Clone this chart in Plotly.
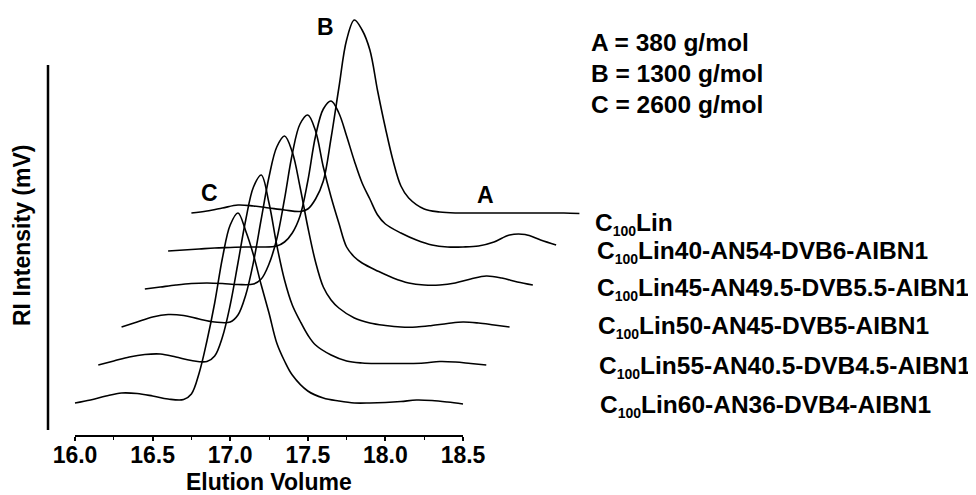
import plotly.graph_objects as go

# ---------------- data ----------------
elution = [16.00, 16.10, 16.20, 16.30, 16.40, 16.50, 16.60, 16.70, 16.75, 16.80,
           16.85, 16.90, 16.95, 17.00, 17.05, 17.10, 17.15, 17.20, 17.25, 17.30,
           17.35, 17.40, 17.50, 17.60, 17.70, 17.80, 17.90, 18.00, 18.10, 18.20,
           18.30, 18.40, 18.50]

lin60 = [0, 3, 7, 10, 9.5, 7, 4, 3.5, 9, 30, 62, 100, 145, 178, 190, 172, 148, 118, 90, 60,
         42, 28, 12, 5, 2, 0, 0, 0.5, 1.5, 3, 2.5, 1, -1]
lin55 = [0, 4, 8, 10.5, 11, 8, 4.5, 3.5, 9, 28, 60, 102, 145, 178, 190, 162, 120, 85, 60, 44,
         30, 20, 10, 4, 2, 1.5, 1.5, 1.5, 2, 3.5, 3, 1.5, 0]
lin50 = [0, 5, 10, 12.5, 11.5, 8, 5, 5, 12, 32, 65, 108, 150, 180, 191, 175, 140, 100, 65, 40,
         27, 19, 9, 4, 1.5, 0, 0, 1.5, 3.5, 5, 4, 2, 0]
lin45 = [0, 2, 4, 5.5, 6, 5.5, 4.5, 5, 10, 25, 50, 90, 135, 165, 174, 158, 122, 92, 66, 42,
         32, 26, 18, 11, 6, 4, 4, 6, 10, 13, 11, 7, 4]
lin40 = [0, 1, 2, 3, 3.5, 4, 4, 5, 9, 18, 35, 70, 115, 142, 150, 138, 115, 90, 68, 52,
         36, 27, 18, 11, 6, 4, 4, 5, 9, 16, 16.5, 11, 6]
lin100 = [0, 2, 5, 8, 7, 5, 3, 1.5, 4, 14, 32, 75, 125, 173, 193, 183, 163, 122, 85, 52,
          27, 15, 4, 1, 0, 0, 0, 0, 0, 0, 0, 0, -0.5]

# bottom to top
series = [lin60, lin55, lin50, lin45, lin40, lin100]
series_labels = [
    "Lin60-AN36-DVB4-AIBN1",
    "Lin55-AN40.5-DVB4.5-AIBN1",
    "Lin50-AN45-DVB5-AIBN1",
    "Lin45-AN49.5-DVB5.5-AIBN1",
    "Lin40-AN54-DVB6-AIBN1",
    "Lin",
]
x_shift = 0.15      # waterfall offset along elution axis
y_shift = 38        # waterfall offset along intensity axis

x_ticks = [16.0, 16.5, 17.0, 17.5, 18.0, 18.5]
x_minor = [16.25, 16.75, 17.25, 17.75, 18.25]
key_lines = ["A = 380 g/mol", "B = 1300 g/mol", "C = 2600 g/mol"]

# ---------------- layout geometry ----------------
OFF = 8                      # page body margin of the browser
W, H = 976 - OFF, 495 - OFF
L, R, T, B = 48 - OFF, 10, 0, 495 - 436
PW, PH = W - L - R, H - T - B
px_per_unit = 155.2
x_left = 16.0 - (75 - 48) / px_per_unit
x_right = x_left + PW / px_per_unit
y_bottom = -33
y_top = y_bottom + PH


def px(xp):
    # window pixel -> paper x
    return (xp - OFF - L) / PW


def py(yp):
    # window pixel -> paper y
    return (T + PH - (yp - OFF)) / PH


FONT = "Liberation Sans, Arial, Helvetica, sans-serif"

fig = go.Figure()
for i, vals in enumerate(series):
    fig.add_trace(go.Scatter(
        x=[e + i * x_shift for e in elution],
        y=[v + i * y_shift for v in vals],
        mode="lines",
        line=dict(color="black", width=1.6, shape="spline", smoothing=1.0),
        name="C100" + series_labels[i],
        showlegend=False,
        hoverinfo="skip",
    ))

annotations = []
# curve labels at right
label_py = [406, 367, 327, 289, 252, 224]
label_px = [598, 597, 596, 595, 595, 593]
for i, name in enumerate(series_labels):
    annotations.append(dict(
        text=("<b>C<sub><span style='font-size:14px'>100</span></sub>"
              + name + "</b>"),
        xref="paper", yref="paper", x=px(label_px[i]), y=py(label_py[i]),
        xanchor="left", yanchor="middle", showarrow=False,
        font=dict(family=FONT, size=24.5, color="black"),
    ))
# molar mass key
for j, t in enumerate(key_lines):
    annotations.append(dict(
        text="<b>" + t + "</b>", xref="paper", yref="paper",
        x=px(589), y=py(43 + 30.5 * j), xanchor="left", yanchor="middle",
        showarrow=False, font=dict(family=FONT, size=24.5, color="black"),
    ))
# peak letters
for letter, (lx, ly) in zip(["C", "B", "A"], [(209.5, 193), (325, 27), (485, 195)]):
    annotations.append(dict(
        text="<b>" + letter + "</b>", xref="paper", yref="paper",
        x=px(lx), y=py(ly), xanchor="center", yanchor="middle",
        showarrow=False, font=dict(family=FONT, size=23, color="black"),
    ))
# axis titles
annotations.append(dict(
    text="<b>Elution Volume</b>", xref="x", yref="paper",
    x=(x_ticks[0] + x_ticks[-1]) / 2, y=py(482), xanchor="center", yanchor="middle",
    showarrow=False, font=dict(family=FONT, size=23, color="black"),
))
annotations.append(dict(
    text="<b>RI Intensity (mV)</b>", xref="paper", yref="paper",
    x=px(22), y=py(236), xanchor="center", yanchor="middle", textangle=-90,
    showarrow=False, font=dict(family=FONT, size=23, color="black"),
))

shapes = [
    # x axis line spanning only the labelled range
    dict(type="line", xref="x", yref="paper", x0=x_ticks[0], x1=x_ticks[-1],
         y0=0, y1=0, line=dict(color="black", width=2)),
    # y axis line
    dict(type="line", xref="paper", yref="paper", x0=0, x1=0,
         y0=py(430), y1=py(65), line=dict(color="black", width=2.5)),
]

fig.update_layout(
    width=W, height=H,
    margin=dict(l=L, r=R, t=T, b=B, pad=0),
    paper_bgcolor="white", plot_bgcolor="white",
    showlegend=False,
    annotations=annotations,
    shapes=shapes,
    xaxis=dict(
        range=[x_left, x_right], showgrid=False, zeroline=False, showline=False,
        tickmode="array", tickvals=x_ticks, ticktext=[f"<b>{v:.1f}</b>" for v in x_ticks],
        ticks="outside", ticklen=4, tickwidth=1.5, tickcolor="black",
        ticklabelstandoff=-6,
        tickfont=dict(family=FONT, size=23, color="black"),
        minor=dict(tickmode="array", tickvals=x_minor, ticks="outside", ticklen=3,
                   tickwidth=1, tickcolor="black", showgrid=False),
        fixedrange=True,
    ),
    yaxis=dict(
        range=[y_bottom, y_top], showgrid=False, zeroline=False, showline=False,
        showticklabels=False, ticks="", fixedrange=True,
    ),
)

fig.write_html("out.html")
